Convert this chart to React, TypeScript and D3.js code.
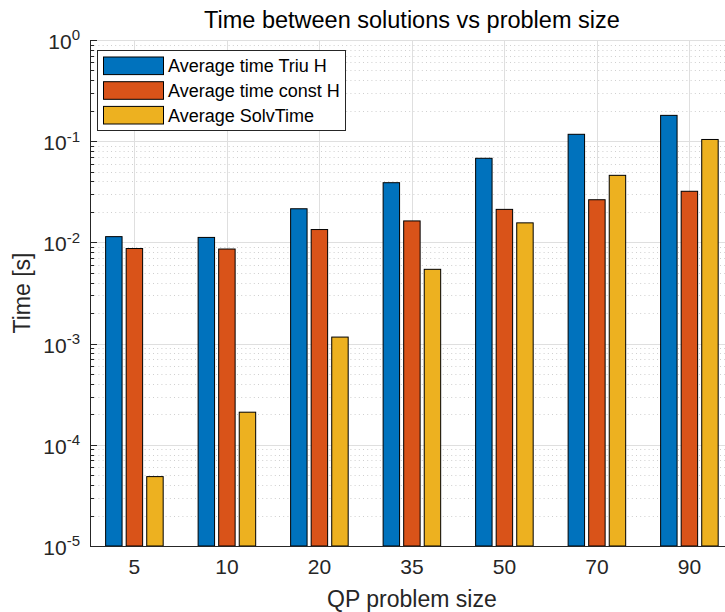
import { useEffect, useRef } from "react";
import * as d3 from "d3";

// problem sizes on the x axis
const categories = ["5", "10", "20", "35", "50", "70", "90"];

// measured times in seconds
const triuH = [0.0114, 0.0112, 0.0215, 0.0389, 0.0678, 0.117, 0.18];
const constH = [0.0087, 0.0086, 0.0134, 0.0163, 0.0212, 0.0264, 0.032];
const solvTime = [4.85e-5, 2.1e-4, 1.16e-3, 5.42e-3, 0.0156, 0.046, 0.104];

const seriesNames = ["Average time Triu H", "Average time const H", "Average SolvTime"];
const seriesColors = ["#0072BD", "#D95319", "#EDB120"];

const yTickExps = [0, -1, -2, -3, -4, -5];

const font = "'Liberation Sans', Arial, Helvetica, sans-serif";

export default function App() {
  const ref = useRef<SVGSVGElement | null>(null);

  useEffect(() => {
    const svg = d3.select(ref.current);
    svg.selectAll("*").remove();

    const W = 725;
    const H = 612;
    const left = 90;
    const top = 40;
    const bottom = 546;

    // x in "group index" units like matlab's bar, 1..7
    const x = d3.scaleLinear().domain([0.52, 7.48]).range([left, left + 6.96 * 92.5]);
    const right = x(7.48);
    const y = d3.scaleLog().domain([1e-5, 1]).range([bottom, top]);

    svg.append("rect").attr("width", W).attr("height", H).attr("fill", "#fff");

    const g = svg.append("g");

    // minor grid (dotted)
    const minors: number[] = [];
    for (let e = -5; e < 0; e++) {
      for (let k = 2; k <= 9; k++) minors.push(k * Math.pow(10, e));
    }
    g.selectAll(".minor")
      .data(minors)
      .enter()
      .append("line")
      .attr("x1", left)
      .attr("x2", right)
      .attr("y1", (d) => Math.round(y(d)) + 0.5)
      .attr("y2", (d) => Math.round(y(d)) + 0.5)
      .attr("stroke", "#cfcfcf")
      .attr("stroke-width", 1)
      .attr("stroke-dasharray", "1 3.2");

    // major grid
    g.selectAll(".major")
      .data(yTickExps.map((e) => Math.pow(10, e)))
      .enter()
      .append("line")
      .attr("x1", left)
      .attr("x2", right)
      .attr("y1", (d) => Math.round(y(d)) + 0.5)
      .attr("y2", (d) => Math.round(y(d)) + 0.5)
      .attr("stroke", "#dfdfdf");

    g.selectAll(".vgrid")
      .data(categories)
      .enter()
      .append("line")
      .attr("x1", (d, i) => Math.round(x(i + 1)) + 0.5)
      .attr("x2", (d, i) => Math.round(x(i + 1)) + 0.5)
      .attr("y1", top)
      .attr("y2", bottom)
      .attr("stroke", "#dfdfdf");

    // ticks (drawn under bars, like axes layer bottom)
    const axisCol = "#262626";
    g.selectAll(".ymaj")
      .data(yTickExps.map((e) => Math.pow(10, e)))
      .enter()
      .append("line")
      .attr("x1", left)
      .attr("x2", left + 7)
      .attr("y1", (d) => Math.round(y(d)) + 0.5)
      .attr("y2", (d) => Math.round(y(d)) + 0.5)
      .attr("stroke", axisCol);
    g.selectAll(".ymin")
      .data(minors)
      .enter()
      .append("line")
      .attr("x1", left)
      .attr("x2", left + 4)
      .attr("y1", (d) => Math.round(y(d)) + 0.5)
      .attr("y2", (d) => Math.round(y(d)) + 0.5)
      .attr("stroke", axisCol);
    g.selectAll(".xt")
      .data(categories)
      .enter()
      .append("line")
      .attr("x1", (d, i) => Math.round(x(i + 1)) + 0.5)
      .attr("x2", (d, i) => Math.round(x(i + 1)) + 0.5)
      .attr("y1", bottom)
      .attr("y2", bottom - 6)
      .attr("stroke", axisCol);

    // bars
    const all = [triuH, constH, solvTime];
    const step = 2 / 9; // group width 2/3 split in 3
    const bw = step * 0.8;
    all.forEach((vals, j) => {
      g.append("g")
        .selectAll("rect")
        .data(vals)
        .enter()
        .append("rect")
        .attr("x", (d, i) => x(i + 1 + (j - 1) * step - bw / 2))
        .attr("width", x(bw) - x(0))
        .attr("y", (d) => y(d))
        .attr("height", (d) => bottom - y(d))
        .attr("fill", seriesColors[j])
        .attr("stroke", "#000")
        .attr("stroke-width", 1);
    });

    // axis lines
    g.append("line")
      .attr("x1", left + 0.5)
      .attr("x2", left + 0.5)
      .attr("y1", top)
      .attr("y2", bottom + 0.5)
      .attr("stroke", axisCol);
    g.append("line")
      .attr("x1", left)
      .attr("x2", right)
      .attr("y1", bottom + 0.5)
      .attr("y2", bottom + 0.5)
      .attr("stroke", axisCol);

    // y tick labels 10^k
    const yl = g
      .selectAll(".ylab")
      .data(yTickExps)
      .enter()
      .append("text")
      .attr("x", 80)
      .attr("y", (d) => y(Math.pow(10, d)) + 9)
      .attr("text-anchor", "end")
      .attr("font-family", font)
      .attr("font-size", 21)
      .attr("fill", axisCol);
    yl.append("tspan").text("10");
    yl.append("tspan")
      .attr("dy", -8.6)
      .attr("font-size", 15)
      .text((d) => String(d));

    // x tick labels
    g.selectAll(".xlab")
      .data(categories)
      .enter()
      .append("text")
      .attr("x", (d, i) => x(i + 1))
      .attr("y", 574)
      .attr("text-anchor", "middle")
      .attr("font-family", font)
      .attr("font-size", 21)
      .attr("fill", axisCol)
      .text((d) => d);

    // axis labels + title
    svg.append("text")
      .attr("x", (left + right) / 2)
      .attr("y", 607)
      .attr("text-anchor", "middle")
      .attr("font-family", font)
      .attr("font-size", 23)
      .attr("fill", axisCol)
      .text("QP problem size");

    svg.append("text")
      .attr("transform", `translate(30,${(top + bottom) / 2}) rotate(-90)`)
      .attr("text-anchor", "middle")
      .attr("font-family", font)
      .attr("font-size", 23)
      .attr("fill", axisCol)
      .text("Time [s]");

    svg.append("text")
      .attr("x", (left + right) / 2)
      .attr("y", 28)
      .attr("text-anchor", "middle")
      .attr("font-family", font)
      .attr("font-size", 23.5)
      .attr("fill", "#000")
      .text("Time between solutions vs problem size");

    // legend
    const lg = svg.append("g");
    lg.append("rect")
      .attr("x", 97.5)
      .attr("y", 50.5)
      .attr("width", 248)
      .attr("height", 80)
      .attr("fill", "#fff")
      .attr("stroke", "#262626");
    seriesNames.forEach((name, j) => {
      const yy = 57 + j * 24.7;
      lg.append("rect")
        .attr("x", 103.5)
        .attr("y", yy)
        .attr("width", 60)
        .attr("height", 17.6)
        .attr("fill", seriesColors[j])
        .attr("stroke", "#000");
      lg.append("text")
        .attr("x", 168)
        .attr("y", yy + 8.8)
        .attr("dy", "0.35em")
        .attr("font-family", font)
        .attr("font-size", 18)
        .attr("fill", "#000")
        .text(name);
    });
  }, []);

  return (
    <svg
      ref={ref}
      width={725}
      height={612}
      style={{ position: "absolute", left: 0, top: 0 }}
    ></svg>
  );
}
